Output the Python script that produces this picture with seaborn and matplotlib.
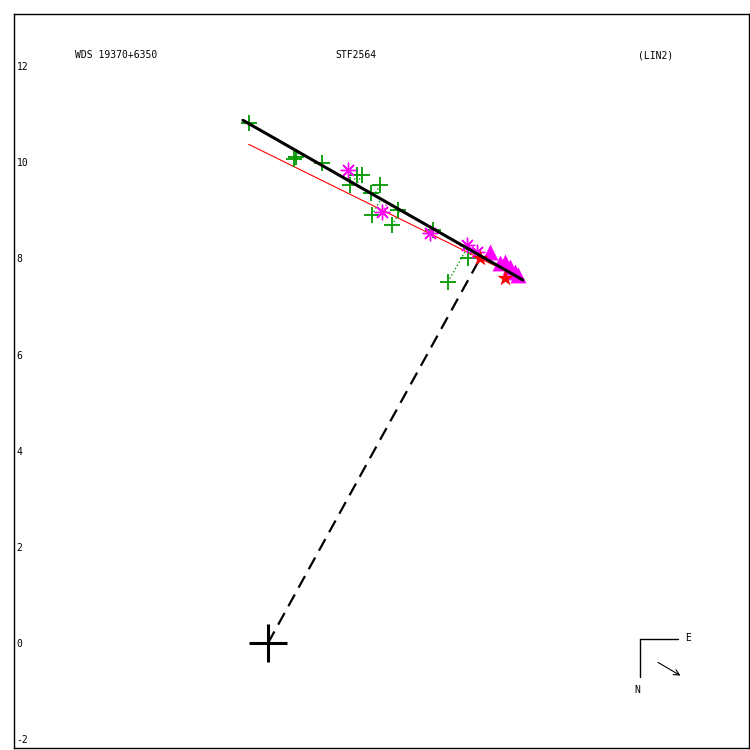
import numpy as np
import matplotlib
matplotlib.use('Agg')
import matplotlib.pyplot as plt
import seaborn as sns

# Наблюдения (угл. сек.)
obs_x = [-0.40, 0.54, 0.58, 1.12, 1.85, 1.95, 1.70, 2.33, 2.16, 2.58, 2.70, 2.14, 3.43, 4.16, 3.74]
obs_y = [10.81, 10.06, 10.10, 9.98, 9.73, 9.73, 9.52, 9.52, 8.90, 8.69, 9.00, 9.35, 8.59, 8.00, 7.51]

ast_x = [1.66, 2.37, 3.37, 4.14, 4.35]
ast_y = [9.83, 8.96, 8.52, 8.27, 8.13]

tri_x = [4.62, 4.82, 4.93, 5.03, 5.14, 5.20]
tri_y = [8.13, 7.90, 7.92, 7.82, 7.71, 7.65]

star_x = [4.41, 4.93]
star_y = [8.00, 7.59]

orbit_x = [-0.52, 5.30]
orbit_y = [10.87, 7.55]

old_orbit_x = [-0.40, 5.24]
old_orbit_y = [10.37, 7.59]

yticks = [-2, 0, 2, 4, 6, 8, 10, 12]

sns.set_style('white')
plt.rcParams['font.family'] = 'DejaVu Sans Mono'
plt.rcParams['text.color'] = 'black'
plt.rcParams['ytick.color'] = 'black'

fig = plt.figure(figsize=(7.5, 7.5), dpi=100)
ax = fig.add_axes([14 / 750, 2 / 750, 735 / 750, 734 / 750])
ax.set_xlim(-5.28, 10.0)
ax.set_ylim(-2.18, 13.08)

# проекция наблюдений на орбиту (невязки)
p0 = np.array([orbit_x[0], orbit_y[0]])
d = np.array([orbit_x[1] - orbit_x[0], orbit_y[1] - orbit_y[0]])
d = d / np.linalg.norm(d)


def residuals(xs, ys, color):
    for x, y in zip(xs, ys):
        v = np.array([x, y]) - p0
        q = p0 + d * np.dot(v, d)
        ax.plot([x, q[0]], [y, q[1]], ls=':', color=color, lw=1.0, zorder=2)


residuals(obs_x, obs_y, '#009900')
residuals(ast_x, ast_y, '#ff00ff')

ax.plot(old_orbit_x, old_orbit_y, color='red', lw=0.8, zorder=3)
ax.plot(orbit_x, orbit_y, color='black', lw=2.2, zorder=7)
ax.plot([0, star_x[0]], [0, star_y[0]], color='black', lw=1.6,
        ls=(0, (6, 3.5)), zorder=3)

sns.scatterplot(x=obs_x, y=obs_y, marker='+', s=120, color='#009900',
                linewidth=1.3, ax=ax, zorder=5)
sns.scatterplot(x=ast_x, y=ast_y, marker=(8, 2, 0), s=110, color='#ff00ff',
                linewidth=1.0, ax=ax, zorder=5)
sns.scatterplot(x=tri_x, y=tri_y, marker='^', s=130, color='#ff00ff',
                edgecolor='#ff00ff', linewidth=0, ax=ax, zorder=5)
sns.scatterplot(x=star_x, y=star_y, marker='*', s=150, color='red',
                edgecolor='red', linewidth=0, ax=ax, zorder=6)
ax.plot([0], [0], marker='+', ms=27, mew=2.2, color='black', zorder=6)

ax.set_xticks([])
ax.set_yticks(yticks)
ax.set_yticklabels([str(t) for t in yticks])
ax.tick_params(axis='y', length=0, pad=-2, labelsize=7, labelcolor='black')
plt.setp(ax.get_yticklabels(), ha='left')
for s in ax.spines.values():
    s.set_color('black')
    s.set_linewidth(1.0)

ax.text(0.083, 0.944, 'WDS 19370+6350', transform=ax.transAxes, fontsize=7, va='center')
ax.text(0.437, 0.944, 'STF2564', transform=ax.transAxes, fontsize=7, va='center')
ax.text(0.849, 0.944, '(LIN2)', transform=ax.transAxes, fontsize=7, va='center')

# компас
ax.plot([0.852, 0.903], [0.1485, 0.1485], color='black', lw=1, transform=ax.transAxes)
ax.plot([0.852, 0.852], [0.1485, 0.0967], color='black', lw=1, transform=ax.transAxes)
ax.text(0.917, 0.150, 'E', transform=ax.transAxes, fontsize=7, ha='center', va='center')
ax.text(0.848, 0.079, 'N', transform=ax.transAxes, fontsize=7, ha='center', va='center')
ax.annotate('', xy=(0.910, 0.0967), xytext=(0.873, 0.1185), xycoords='axes fraction',
            arrowprops=dict(arrowstyle='->', color='black', lw=0.8))

fig.savefig('out.png', dpi=100)
